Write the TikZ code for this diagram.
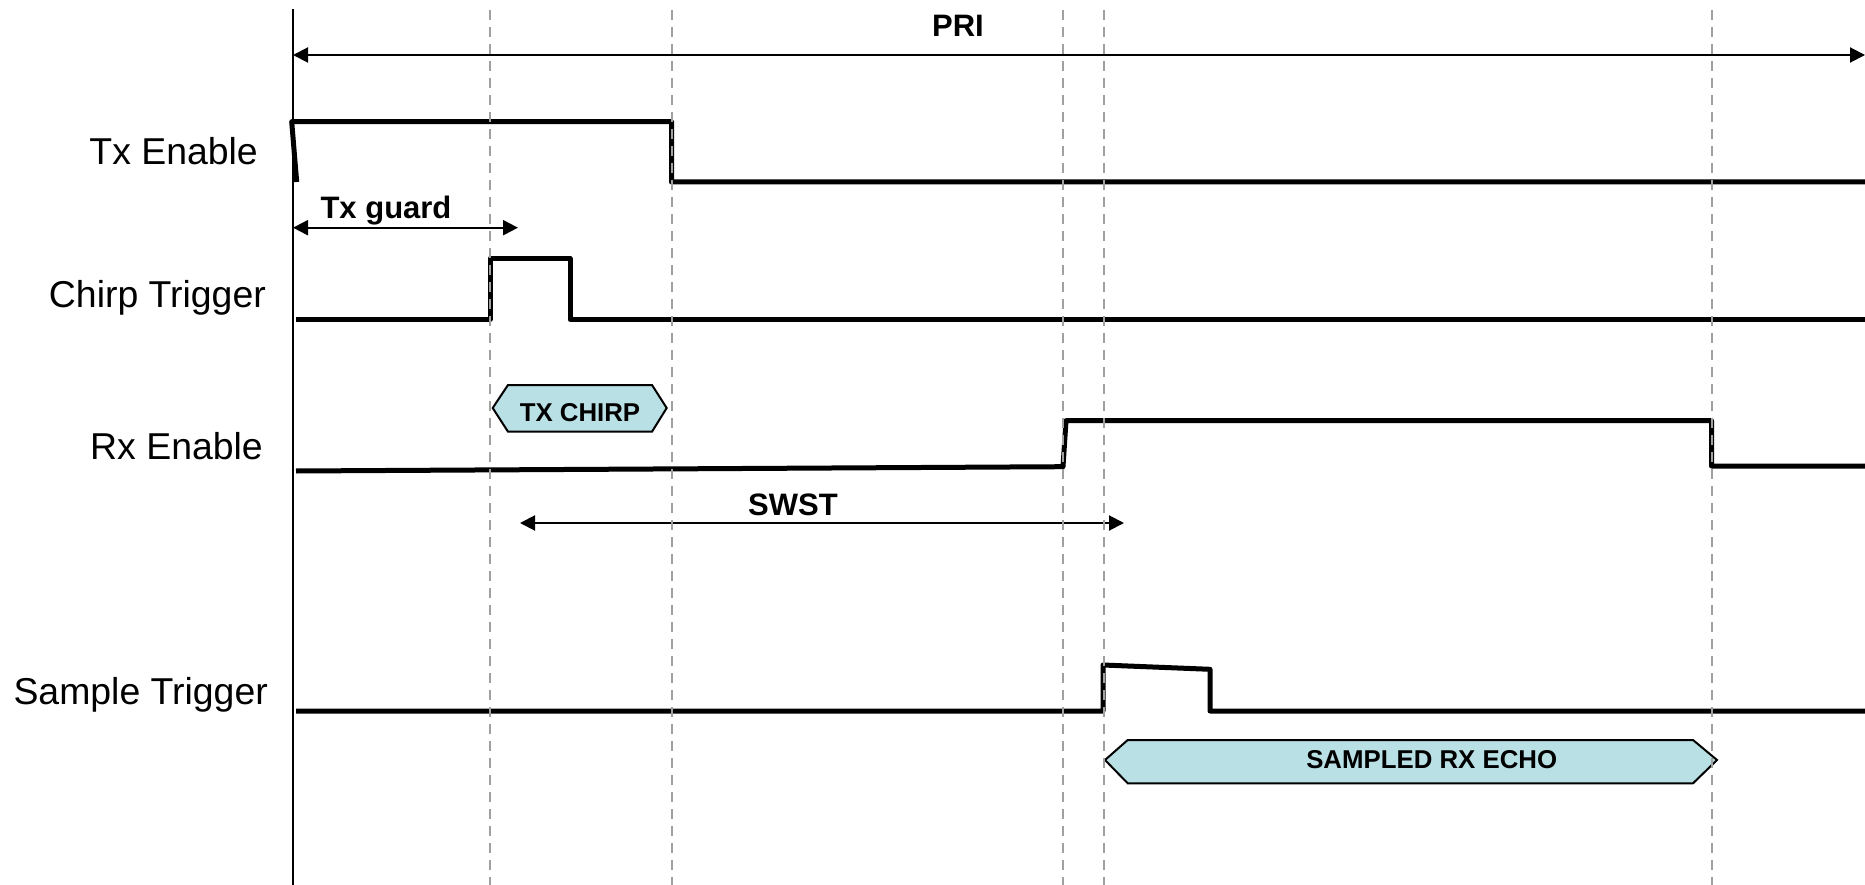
\documentclass[tikz,border=0pt]{standalone}
\usepackage{fontspec}
\setmainfont{Liberation Sans}
\usetikzlibrary{arrows.meta}
\definecolor{hexfill}{RGB}{185,224,228}
\definecolor{guide}{RGB}{160,160,160}
\begin{document}
\begin{tikzpicture}[x=1pt,y=-1pt,
  sig/.style={line width=5pt, line join=round},
  guideline/.style={draw=guide, line width=2pt, dash pattern=on 10pt off 7pt},
  dim/.style={line width=2pt, {Triangle[length=15pt,width=15pt]}-{Triangle[length=15pt,width=15pt]}},
  lbl/.style={anchor=base east, inner sep=0pt, font=\fontsize{37.4}{41}\selectfont},
  blbl/.style={anchor=base, inner sep=0pt, font=\bfseries\fontsize{31}{34}\selectfont},
  hexlbl/.style={anchor=base, inner sep=0pt, font=\bfseries\fontsize{25.8}{30}\selectfont},
  hexbox/.style={fill=hexfill, draw=black, line width=2pt, line join=miter}
]
\useasboundingbox (0,0) rectangle (1865,885);

% signal labels
\node[lbl] (ltx) at (258,165) {Tx Enable};
\node[lbl] (lchirp) at (266,307) {Chirp Trigger};
\node[lbl] (lrx) at (263,459) {Rx Enable};
\node[lbl] (lsample) at (268,704) {Sample Trigger};

% axis
\draw[line width=2pt] (292.7,9.5) -- (292.7,885);

% signals
\draw[sig] (296.7,182) -- (291.7,121.7) -- (671.5,121.7) -- (671.5,182) -- (1865,182);
\draw[sig] (295.7,319.3) -- (490,319.3) -- (490,258.3) -- (570,258.3) -- (570,319.3) -- (1865,319.3);
\draw[sig] (296,471) -- (1063,466.7) -- (1066,420.7) -- (1711.5,420.7) -- (1711.5,466) -- (1865,466);
\draw[sig] (296,711) -- (1103,711) -- (1103,665) -- (1210,669.3) -- (1210,711) -- (1865,711);

% hexagon boxes
\draw[hexbox] (492.7,408) -- (508,385) -- (652,385) -- (666.7,408) -- (652,431.7) -- (508,431.7) -- cycle;
\node[hexlbl] (txchirp) at (580,421.7) {TX CHIRP};
\draw[hexbox] (1105,760) -- (1127.7,740) -- (1693,740) -- (1717,760) -- (1693,783.3) -- (1127.7,783.3) -- cycle;
\node[hexlbl] (echo) at (1431.7,768.3) {SAMPLED RX ECHO};

% dimension arrows
\coordinate (priL) at (293,55);
\coordinate (priR) at (1865,55);
\draw[dim] (priL) -- (priR);
\node[blbl] (pri) at (958,36.7) {PRI};

\coordinate (gL) at (293,227.7);
\coordinate (gR) at (518,227.7);
\draw[dim] (gL) -- (gR);
\node[blbl] (guard) at (386,218.3) {Tx guard};

\coordinate (sL) at (520,523);
\coordinate (sR) at (1124,523);
\draw[dim] (sL) -- (sR);
\node[blbl] (swst) at (793,515) {SWST};

% dashed guides
\foreach \x in {490,671.5,1063,1103.5,1711.5}
  \draw[guideline] (\x,10) -- (\x,885);
\end{tikzpicture}
\end{document}
